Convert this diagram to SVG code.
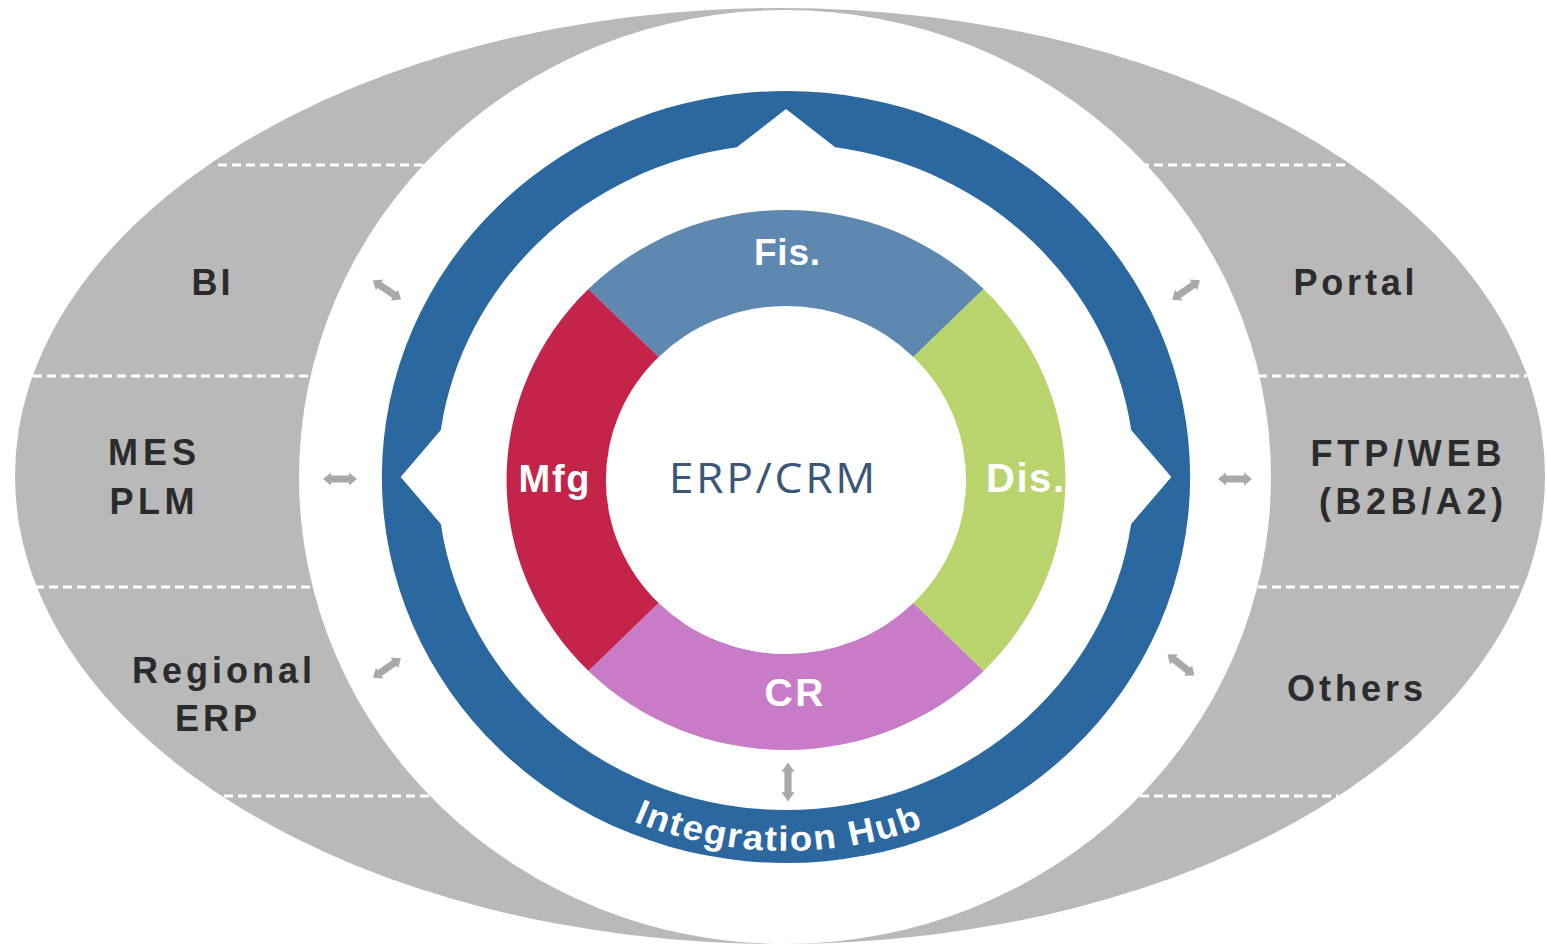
<svg xmlns="http://www.w3.org/2000/svg" width="1547" height="945" viewBox="0 0 1547 945">
<style>
.lbl{font-family:"Liberation Sans",Arial,sans-serif;font-weight:bold;font-size:36px;fill:#2b2b2b;text-anchor:middle}
.seg{font-family:"Liberation Sans",Arial,sans-serif;font-weight:bold;fill:#ffffff;text-anchor:middle}
.dash{stroke:#ffffff;stroke-width:3;stroke-dasharray:9 5;fill:none}
.arr{fill:#a9a9a9}
</style>
<defs>
<path id="dbl" d="M-17,0 L-9,-6.5 L-9,-3.6 L9,-3.6 L9,-6.5 L17,0 L9,6.5 L9,3.6 L-9,3.6 L-9,6.5 Z"/>
<path id="hubArc" d="M -351.4,127.9 A 374 374 0 0 0 351.4,127.9"/>
</defs>
<rect width="1547" height="945" fill="#ffffff"/>
<g id="backdrop">
<ellipse cx="780" cy="476" rx="765" ry="468" fill="#b9b9b9"/>
<g class="dash">
<line x1="218" y1="165" x2="430" y2="165"/>
<line x1="1140" y1="165" x2="1350" y2="165"/>
<line x1="33" y1="376" x2="310" y2="376"/>
<line x1="1258" y1="376" x2="1527" y2="376"/>
<line x1="35" y1="587" x2="310" y2="587"/>
<line x1="1258" y1="587" x2="1525" y2="587"/>
<line x1="224" y1="796" x2="430" y2="796"/>
<line x1="1140" y1="796" x2="1338" y2="796"/>
</g>
<ellipse cx="785" cy="477" rx="486" ry="467" fill="#ffffff"/>
</g>
<g id="outer-systems">
<g id="node-bi"><text class="lbl" x="211" y="295" textLength="39" lengthAdjust="spacing">BI</text></g>
<g id="node-mes-plm"><text class="lbl" x="152" y="465" textLength="88" lengthAdjust="spacing">MES</text><text class="lbl" x="152" y="514" textLength="85" lengthAdjust="spacing">PLM</text></g>
<g id="node-regional-erp"><text class="lbl" x="222" y="683" textLength="180" lengthAdjust="spacing">Regional</text><text class="lbl" x="216" y="731" textLength="82" lengthAdjust="spacing">ERP</text></g>
<g id="node-portal"><text class="lbl" x="1354" y="295" textLength="121" lengthAdjust="spacing">Portal</text></g>
<g id="node-ftp-web"><text class="lbl" x="1406" y="466" textLength="191" lengthAdjust="spacing">FTP/WEB</text><text class="lbl" x="1411" y="514" textLength="184" lengthAdjust="spacing">(B2B/A2)</text></g>
<g id="node-others"><text class="lbl" x="1355" y="701" textLength="136" lengthAdjust="spacing">Others</text></g>
</g>
<g id="node-integration-hub">
<g transform="translate(786,477) scale(1.047,1)">
<path fill="#2c68a0" fill-rule="evenodd" d="M -386,0 A 386 386 0 1 1 386,0 A 386 386 0 1 1 -386,0 Z M 47,-329.67 A 333 333 0 0 1 329.67,-47 L 368,0 L 329.67,47 A 333 333 0 0 1 -329.67,47 L -368,0 L -329.67,-47 A 333 333 0 0 1 -47,-329.67 L 0,-368 Z"/>
<text font-family="Liberation Sans, Arial, sans-serif" font-weight="bold" font-size="35" fill="#ffffff" letter-spacing="1.8" text-anchor="middle"><textPath href="#hubArc" startOffset="49.2%">Integration Hub</textPath></text>
</g>
</g>
<g id="node-erp-crm">
<g transform="translate(786,480) scale(1.035,1)">
<path id="seg-fis" fill="#5f88b0" d="M -190.92,-190.92 A 270 270 0 0 1 190.92,-190.92 L 123.04,-123.04 A 174 174 0 0 0 -123.04,-123.04 Z"/>
<path id="seg-dis" fill="#b9d46c" d="M 190.92,-190.92 A 270 270 0 0 1 190.92,190.92 L 123.04,123.04 A 174 174 0 0 0 123.04,-123.04 Z"/>
<path id="seg-cr" fill="#c87cc8" d="M 190.92,190.92 A 270 270 0 0 1 -190.92,190.92 L -123.04,123.04 A 174 174 0 0 0 123.04,123.04 Z"/>
<path id="seg-mfg" fill="#c5244a" d="M -190.92,190.92 A 270 270 0 0 1 -190.92,-190.92 L -123.04,-123.04 A 174 174 0 0 0 -123.04,123.04 Z"/>
</g>
<text class="seg" x="787" y="265" font-size="37" textLength="66" lengthAdjust="spacing">Fis.</text>
<text class="seg" x="554" y="492" font-size="38" textLength="71" lengthAdjust="spacing">Mfg</text>
<text class="seg" x="1025" y="492" font-size="40" textLength="78" lengthAdjust="spacing" fill="#f6f9e8">Dis.</text>
<text class="seg" x="794" y="706" font-size="39" textLength="59" lengthAdjust="spacing">CR</text>
<text transform="translate(772,493) scale(1.06,1)" x="0" y="0" font-family="Open Sans, DejaVu Sans, sans-serif" font-size="42" fill="#3b5676" text-anchor="middle" textLength="195" lengthAdjust="spacing">ERP/CRM</text>
</g>
<g id="connectors" class="arr">
<use href="#dbl" transform="translate(387,290) rotate(34)"/>
<use href="#dbl" transform="translate(340,479)"/>
<use href="#dbl" transform="translate(387,668) rotate(-35)"/>
<use href="#dbl" transform="translate(1186,290) rotate(-35)"/>
<use href="#dbl" transform="translate(1235,479)"/>
<use href="#dbl" transform="translate(1181,665) rotate(38)"/>
<use href="#dbl" transform="translate(788,782) rotate(90) scale(1.15,1)"/>
</g>
</svg>
